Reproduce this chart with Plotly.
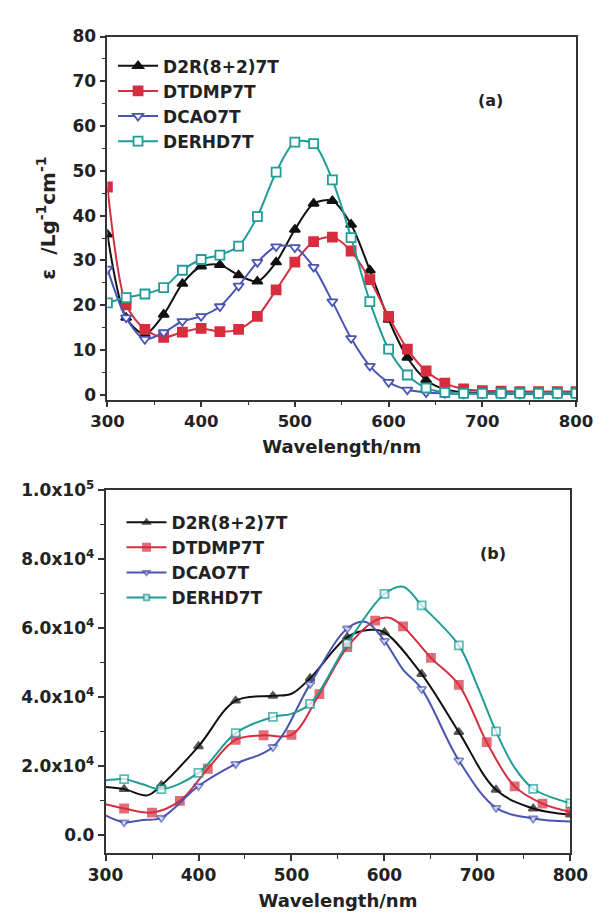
import plotly.graph_objects as go

# ---------------- Panel (a) data ----------------
wl_a = [300, 320, 340, 360, 380, 400, 420, 440, 460, 480, 500, 520, 540,
        560, 580, 600, 620, 640, 660, 680, 700, 720, 740, 760, 780, 800]
a_d2r = [35.8, 17.2, 13.5, 17.9, 24.8, 28.7, 29.0, 26.7, 25.3, 29.6, 36.9, 42.7, 43.3,
         38.0, 27.8, 16.8, 8.3, 3.3, 1.2, 0.6, 0.4, 0.3, 0.3, 0.3, 0.3, 0.3]
a_dtdmp = [46.4, 20.1, 14.6, 12.8, 14.0, 14.8, 14.1, 14.6, 17.5, 23.4, 29.6, 34.2, 35.2,
           32.1, 25.7, 17.5, 10.2, 5.3, 2.6, 1.3, 0.9, 0.8, 0.7, 0.7, 0.7, 0.7]
a_dcao = [28.1, 17.2, 12.4, 13.9, 16.4, 17.5, 19.7, 24.3, 29.6, 33.1, 32.9, 28.5, 20.8,
          12.6, 6.4, 2.8, 1.1, 0.5, 0.3, 0.2, 0.2, 0.2, 0.2, 0.2, 0.2, 0.2]
a_derhd = [20.5, 21.7, 22.5, 23.9, 27.8, 30.2, 31.2, 33.2, 39.8, 49.7, 56.4, 56.1, 48.0,
           35.1, 20.8, 10.2, 4.4, 1.5, 0.5, 0.3, 0.3, 0.3, 0.3, 0.3, 0.3, 0.3]

# ---------------- Panel (b) data ----------------
b_d2r_wl = [300, 320, 345, 360, 400, 440, 480, 500, 520, 560, 585, 600, 640, 680, 720, 760, 800]
b_d2r = [14000, 13400, 11600, 14500, 25800, 39000, 40400, 41000, 45500, 57400, 59500,
         58800, 46700, 29900, 13200, 7800, 6000]
b_d2r_mk = [320, 360, 400, 440, 480, 520, 560, 600, 640, 680, 720, 760, 800]

b_dtdmp_wl = [300, 320, 350, 380, 410, 440, 470, 500, 530, 560, 590, 605, 620, 650, 680,
              710, 740, 770, 800]
b_dtdmp = [9000, 7800, 6600, 10000, 19300, 27700, 29000, 29100, 40900, 54500, 62200, 63000,
           60500, 51400, 43600, 27000, 14200, 9200, 6800]
b_dtdmp_mk = [320, 350, 380, 410, 440, 470, 500, 530, 560, 590, 620, 650, 680, 710, 740, 770, 800]

b_dcao_wl = [300, 320, 340, 360, 400, 440, 480, 520, 560, 580, 600, 620, 640, 680, 720, 760, 800]
b_dcao = [5800, 3800, 4500, 5100, 14300, 20700, 25600, 43800, 59900, 61800, 56300, 48000,
          42400, 21700, 8000, 4900, 4000]
b_dcao_mk = [320, 360, 400, 440, 480, 520, 560, 600, 640, 680, 720, 760]

b_derhd_wl = [300, 320, 340, 360, 400, 440, 480, 500, 520, 560, 600, 620, 640, 680, 700,
              720, 740, 760, 800]
b_derhd = [15900, 16300, 14800, 13400, 18100, 29600, 34300, 35200, 38100, 55500, 69900,
           72000, 66600, 55000, 43200, 30100, 19600, 13500, 9300]
b_derhd_mk = [320, 360, 400, 440, 480, 520, 560, 600, 640, 680, 720, 760, 800]

names = ["D2R(8+2)7T", "DTDMP7T", "DCAO7T", "DERHD7T"]
y_ticks_b = [0, 20000, 40000, 60000, 80000, 100000]
y_ticktext_b = ["0.0", "2.0x10<sup>4</sup>", "4.0x10<sup>4</sup>", "6.0x10<sup>4</sup>",
                "8.0x10<sup>4</sup>", "1.0x10<sup>5</sup>"]

# ---------------- styles ----------------
colors = ["#111111", "#d62e3e", "#4a54b2", "#1f9d96"]
symbols = ["triangle-up", "square", "triangle-down", "square"]
fills = ["#111111", "#d62e3e", "white", "white"]
FONT = "DejaVu Sans, Verdana, sans-serif"
TXT = "#222222"

W, H = 611, 914


def fx(px):
    return px / W


def fy(py):
    return 1 - py / H


fig = go.Figure()

a_series = [a_d2r, a_dtdmp, a_dcao, a_derhd]
for i, ys in enumerate(a_series):
    fig.add_trace(go.Scatter(
        x=wl_a, y=ys, name=names[i], mode="lines+markers",
        line=dict(color=colors[i], width=2, shape="spline", smoothing=0.8),
        marker=dict(symbol=symbols[i], size=9, color=fills[i],
                    line=dict(color=colors[i], width=1.8)),
        xaxis="x", yaxis="y", legend="legend"))

b_series = [(b_d2r_wl, b_d2r, b_d2r_mk), (b_dtdmp_wl, b_dtdmp, b_dtdmp_mk),
            (b_dcao_wl, b_dcao, b_dcao_mk), (b_derhd_wl, b_derhd, b_derhd_mk)]
for i, (xs, ys, mk) in enumerate(b_series):
    sizes = [8 if x in mk else 0 for x in xs]
    fig.add_trace(go.Scatter(
        x=xs, y=ys, name=names[i], mode="lines+markers",
        line=dict(color=colors[i], width=2, shape="spline", smoothing=1.0),
        marker=dict(symbol=symbols[i], size=sizes, color=fills[i],
                    line=dict(color=colors[i], width=1.8)),
        xaxis="x2", yaxis="y2", legend="legend2"))

tickfont = dict(family=FONT, size=17, color=TXT, weight="bold")
xtickfont_a = dict(family=FONT, size=16.5, color=TXT, weight="bold")
titlefont = dict(family=FONT, size=18, color=TXT, weight="bold")
ytitlefont = dict(family=FONT, size=20, color=TXT, weight="bold")
legfont = dict(family=FONT, size=17, color=TXT, weight="bold")


def xax(domain, anchor, tf):
    return dict(domain=domain, anchor=anchor, range=[300, 800], dtick=100,
                ticks="outside", ticklen=6, tickwidth=1.5, tickcolor="#333",
                showline=True, linewidth=1.6, linecolor="#333", mirror=True,
                showgrid=False, zeroline=False, tickfont=tf,
                minor=dict(ticks="outside", ticklen=4, dtick=50, tickcolor="#333", tickwidth=1.2),
                title=dict(text="Wavelength/nm", font=titlefont, standoff=10))


def yax(domain, anchor, **kw):
    d = dict(domain=domain, anchor=anchor,
             ticks="outside", ticklen=6, tickwidth=1.5, tickcolor="#333",
             showline=True, linewidth=1.6, linecolor="#333", mirror=True,
             showgrid=False, zeroline=False, tickfont=tickfont)
    d.update(kw)
    return d


fig.update_layout(
    width=W, height=H, margin=dict(l=0, r=0, t=0, b=0),
    paper_bgcolor="white", plot_bgcolor="white",
    xaxis=xax([fx(95), fx(593)], "y", xtickfont_a),
    yaxis=yax([fy(395), fy(25)], "x", range=[-1.1, 80], dtick=10,
              minor=dict(ticks="outside", ticklen=4, dtick=5, tickcolor="#333", tickwidth=1.2),
              title=dict(text="ε  /Lg<sup>-1</sup>cm<sup>-1</sup>", font=ytitlefont, standoff=12)),
    xaxis2=xax([fx(93), fx(587)], "y2", tickfont),
    yaxis2=yax([fy(857), fy(487)], "x2", range=[-5100, 100000],
               tickvals=y_ticks_b, ticktext=y_ticktext_b,
               minor=dict(ticks="outside", ticklen=4, dtick=10000, tickcolor="#333", tickwidth=1.2)),
    legend=dict(x=fx(101), y=fy(37), xanchor="left", yanchor="top", itemwidth=40,
                bgcolor="rgba(0,0,0,0)", borderwidth=0, tracegroupgap=0, font=legfont),
    legend2=dict(x=fx(110), y=fy(502), xanchor="left", yanchor="top", itemwidth=40,
                 bgcolor="rgba(0,0,0,0)", borderwidth=0, tracegroupgap=0, font=legfont),
    annotations=[
        dict(text="(a)", x=fx(502), y=fy(90), xref="paper", yref="paper",
             xanchor="center", yanchor="middle", showarrow=False,
             font=dict(family=FONT, size=16, color=TXT, weight="bold")),
        dict(text="(b)", x=fx(505), y=fy(552), xref="paper", yref="paper",
             xanchor="center", yanchor="middle", showarrow=False,
             font=dict(family=FONT, size=16, color=TXT, weight="bold")),
    ],
)

# remove the default 8px page margin so the 611x914 figure fills the window exactly
fig.write_html("out.html", config={"displayModeBar": False},
               post_script="document.body.style.margin='0';")
